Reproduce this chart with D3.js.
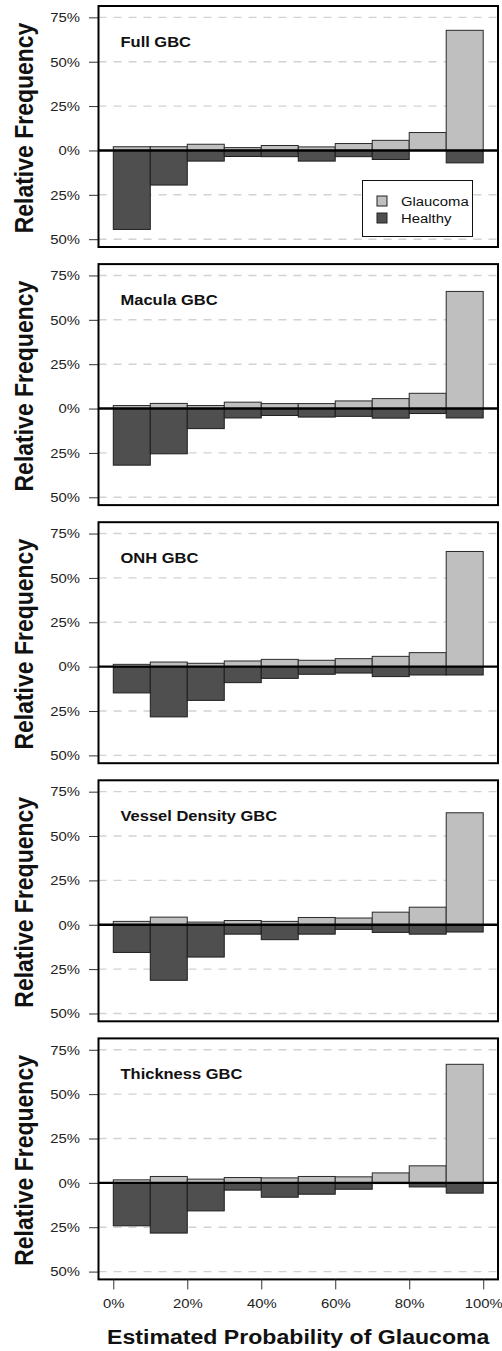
<!DOCTYPE html>
<html>
<head>
<meta charset="utf-8">
<title>Estimated Probability of Glaucoma</title>
<script src="https://d3js.org/d3.v7.min.js"></script>
<style>
  body { margin: 0; background: #fff; }
  svg { display: block; font-family: "Liberation Sans", Arial, sans-serif; }
</style>
</head>
<body>
<div id="chart"></div>
<script>
// bins of estimated probability (%)
const binEdges = [0, 10, 20, 30, 40, 50, 60, 70, 80, 90, 100];
const panelTitles = ["Full GBC", "Macula GBC", "ONH GBC", "Vessel Density GBC", "Thickness GBC"];

// relative frequency (%) per bin
const fullGlaucoma      = [2.1, 2.1, 3.5, 1.6, 2.8, 2.0, 3.9, 5.7, 10.1, 67.7];
const fullHealthy       = [44.5, 19.5, 6.0, 3.4, 3.5, 6.0, 3.5, 5.1, 0.0, 7.0];
const maculaGlaucoma    = [1.7, 2.9, 1.7, 3.6, 2.8, 2.8, 4.3, 5.6, 8.6, 66.0];
const maculaHealthy     = [31.9, 25.5, 11.3, 5.3, 3.9, 4.8, 4.4, 5.4, 2.8, 5.3];
const onhGlaucoma       = [1.3, 2.6, 1.9, 3.2, 4.1, 3.6, 4.5, 5.8, 7.9, 64.9];
const onhHealthy        = [14.8, 28.3, 19.0, 9.0, 6.6, 4.3, 3.6, 5.6, 4.7, 4.7];
const vesselGlaucoma    = [1.9, 4.3, 1.5, 2.4, 1.9, 4.1, 3.8, 7.1, 9.9, 63.1];
const vesselHealthy     = [15.6, 31.3, 18.2, 5.3, 8.4, 5.3, 2.6, 4.3, 5.3, 4.1];
const thicknessGlaucoma = [1.7, 3.6, 2.1, 3.0, 2.8, 3.6, 3.4, 5.6, 9.6, 66.8];
const thicknessHealthy  = [24.2, 28.3, 15.8, 4.1, 8.1, 6.4, 3.6, 0.4, 2.3, 5.8];

const yTicks = [75, 50, 25, 0, -25, -50];
const xTicks = [0, 20, 40, 60, 80, 100];
const legendLabels = ["Glaucoma", "Healthy"];

const glaucomaSeries = [fullGlaucoma, maculaGlaucoma, onhGlaucoma, vesselGlaucoma, thicknessGlaucoma];
const healthySeries = [fullHealthy, maculaHealthy, onhHealthy, vesselHealthy, thicknessHealthy];

const W = 502, H = 1351;
const left = 98.5, right = 498;
const firstTop = 6, pitch = 258.1, boxH = 241;
const stretch = "scale(1.1,1)"; // source figure text is a bit wide
const lightFill = "#bfbfbf", darkFill = "#4f4f4f";

const svg = d3.select("#chart").append("svg")
  .attr("width", W).attr("height", H);

const x = d3.scaleLinear().domain([-4, 104]).range([left, right]);

panelTitles.forEach((title, i) => {
  const top = firstTop + i * pitch;
  const bottom = top + boxH;
  const y = d3.scaleLinear().domain([-54.4, 81.4]).range([bottom, top]);
  const g = svg.append("g");

  // dashed grid
  g.selectAll("line.grid")
    .data(yTicks.filter(d => d !== 0))
    .enter().append("line")
    .attr("class", "grid")
    .attr("x1", left).attr("x2", right)
    .attr("y1", d => y(d)).attr("y2", d => y(d))
    .attr("stroke", "#d2d2d2")
    .attr("stroke-width", 1.4)
    .attr("stroke-dasharray", "8,7");

  const bins = d3.range(binEdges.length - 1).map(k => ({
    x0: binEdges[k], x1: binEdges[k + 1],
    g: glaucomaSeries[i][k], h: healthySeries[i][k]
  }));

  // glaucoma bars go up
  g.selectAll("rect.glaucoma")
    .data(bins)
    .enter().append("rect")
    .attr("class", "glaucoma")
    .attr("x", d => x(d.x0))
    .attr("width", d => x(d.x1) - x(d.x0))
    .attr("y", d => y(d.g))
    .attr("height", d => y(0) - y(d.g))
    .attr("fill", lightFill)
    .attr("stroke", "#2a2a2a")
    .attr("stroke-width", 1);

  // healthy bars go down
  g.selectAll("rect.healthy")
    .data(bins.filter(d => d.h > 0))
    .enter().append("rect")
    .attr("class", "healthy")
    .attr("x", d => x(d.x0))
    .attr("width", d => x(d.x1) - x(d.x0))
    .attr("y", y(0))
    .attr("height", d => y(-d.h) - y(0))
    .attr("fill", darkFill)
    .attr("stroke", "#1e1e1e")
    .attr("stroke-width", 1);

  // zero line
  g.append("line")
    .attr("x1", left).attr("x2", right)
    .attr("y1", y(0)).attr("y2", y(0))
    .attr("stroke", "#000")
    .attr("stroke-width", 2.4);

  // y axis
  const yAxis = d3.axisLeft(y)
    .tickValues(yTicks)
    .tickSize(9.5)
    .tickPadding(9)
    .tickFormat(d => Math.abs(d) + "%");
  const ya = g.append("g")
    .attr("transform", `translate(${left},0)`)
    .call(yAxis);
  ya.select(".domain").remove();
  ya.selectAll(".tick line").attr("stroke", "#333");
  ya.selectAll(".tick text")
    .attr("x", -18.5 / 1.1)
    .attr("transform", stretch)
    .attr("fill", "#222")
    .style("font-size", "13.5px");

  // frame
  g.append("rect")
    .attr("x", left).attr("y", top)
    .attr("width", right - left).attr("height", boxH)
    .attr("fill", "none")
    .attr("stroke", "#000")
    .attr("stroke-width", 2);

  // panel title
  g.append("text")
    .attr("transform", `translate(120.5,${top + 40.5}) ${stretch}`)
    .attr("font-size", 15)
    .attr("font-weight", "bold")
    .attr("fill", "#111")
    .text(title);

  // y title
  g.append("text")
    .attr("transform", `translate(33.3,${(top + bottom) / 2 + 1.5}) ${stretch} rotate(-90)`)
    .attr("text-anchor", "middle")
    .attr("font-size", 23)
    .attr("font-weight", "bold")
    .attr("fill", "#111")
    .text("Relative Frequency");

  // legend on the first panel
  if (i === 0) {
    const lg = g.append("g");
    lg.append("rect")
      .attr("x", 362.5).attr("y", 180.5)
      .attr("width", 110).attr("height", 56)
      .attr("fill", "#fff")
      .attr("stroke", "#111")
      .attr("stroke-width", 1);
    legendLabels.forEach((lab, k) => {
      const ly = 196 + k * 17;
      lg.append("rect")
        .attr("x", 377).attr("y", ly)
        .attr("width", 10).attr("height", 10)
        .attr("fill", k === 0 ? lightFill : darkFill)
        .attr("stroke", "#222");
      lg.append("text")
        .attr("transform", `translate(401,${ly + 10}) ${stretch}`)
        .attr("font-size", 13.5)
        .attr("fill", "#111")
        .text(lab);
    });
  }

  // x axis under the last panel
  if (i === panelTitles.length - 1) {
    const xAxis = d3.axisBottom(x)
      .tickValues(xTicks)
      .tickSize(10)
      .tickPadding(9)
      .tickFormat(d => d + "%");
    const xa = g.append("g")
      .attr("transform", `translate(0,${bottom})`)
      .call(xAxis);
    xa.select(".domain").remove();
    xa.selectAll(".tick line").attr("stroke", "#333");
    xa.selectAll(".tick text")
      .attr("transform", stretch)
      .attr("fill", "#222")
      .style("font-size", "13.5px");

    g.append("text")
      .attr("transform", `translate(${(left + right) / 2},${bottom + 65}) ${stretch}`)
      .attr("text-anchor", "middle")
      .attr("font-size", 21)
      .attr("font-weight", "bold")
      .attr("fill", "#111")
      .text("Estimated Probability of Glaucoma");
  }
});
</script>
</body>
</html>
